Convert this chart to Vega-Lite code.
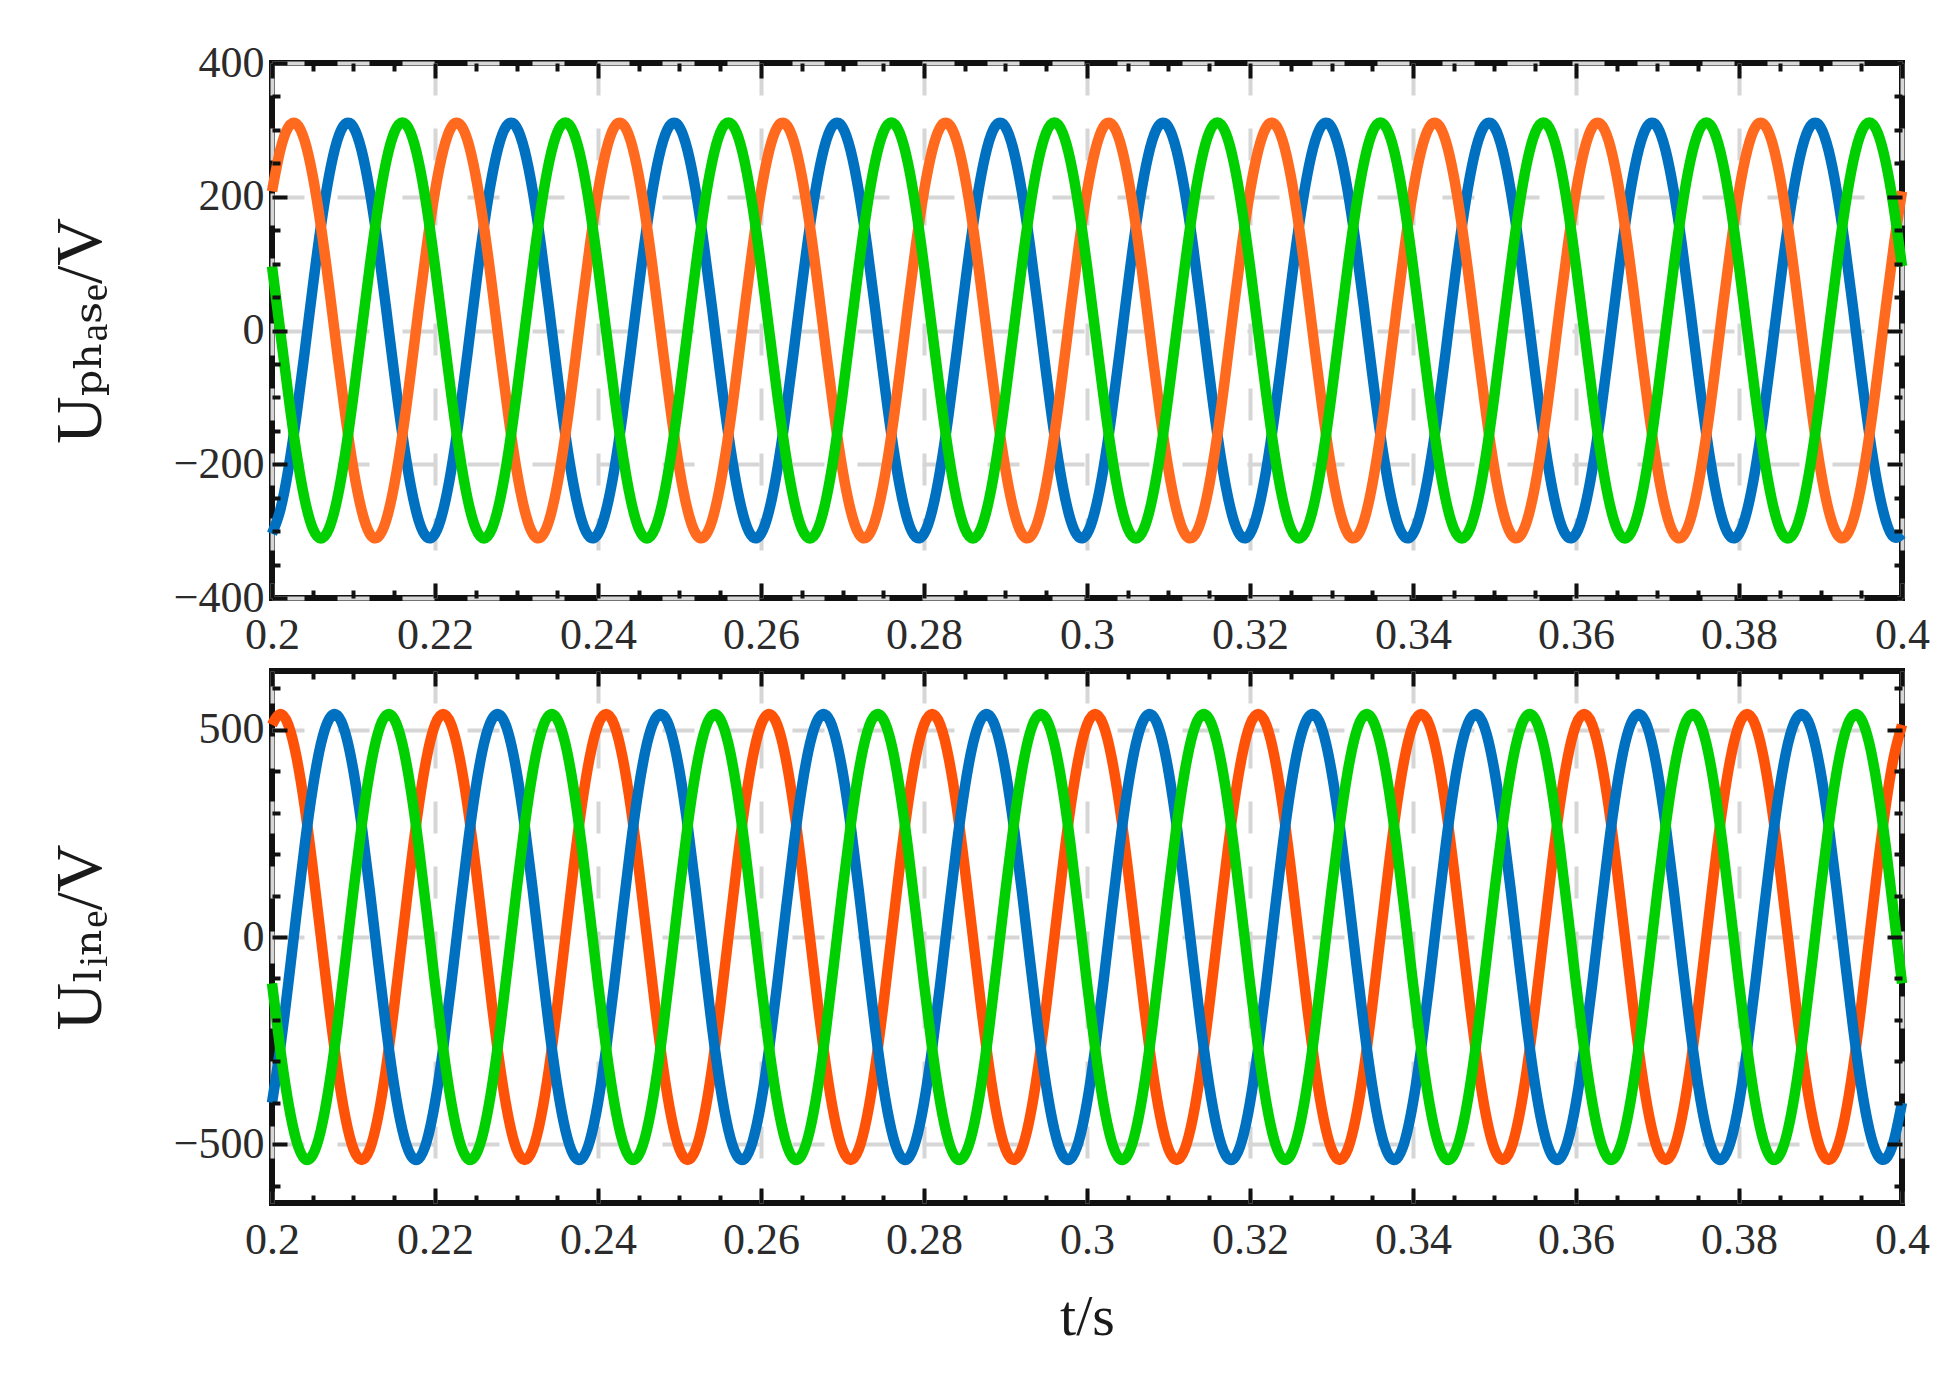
{
"$schema": "https://vega.github.io/schema/vega-lite/v6.json",
"background": "white",
"padding": {"left": 44, "top": 38, "right": 20, "bottom": 10},
"spacing": 6,
"config": {
  "view": {"stroke": "#111111", "strokeWidth": 6},
  "font": "Liberation Serif, DejaVu Serif, serif",
  "axis": {"labelFont": "Liberation Serif, DejaVu Serif, serif", "titleFont": "Liberation Serif, DejaVu Serif, serif", "labelFontSize": 44, "labelColor": "#2b2b2b", "titleColor": "#1a1a1a", "titleFontWeight": "normal", "tickColor": "#111111", "domain": false}
},
"datasets": {"w": [
{"t":0.2,"a":-304,"b":208,"c":96,"d":512,"e":-400,"f":-112},
{"t":0.201,"a":-269,"b":269,"c":0,"d":538,"e":-269,"f":-269},
{"t":0.202,"a":-208,"b":304,"c":-96,"d":512,"e":-112,"f":-400},
{"t":0.203,"a":-127,"b":309,"c":-183,"d":435,"e":56,"f":-492},
{"t":0.204,"a":-33,"b":284,"c":-252,"d":316,"e":219,"f":-535},
{"t":0.205,"a":65,"b":231,"c":-296,"d":166,"e":360,"f":-526},
{"t":0.206,"a":156,"b":156,"c":-311,"d":0,"e":466,"f":-466},
{"t":0.207,"a":231,"b":65,"c":-296,"d":-166,"e":526,"f":-360},
{"t":0.208,"a":284,"b":-33,"c":-252,"d":-316,"e":535,"f":-219},
{"t":0.209,"a":309,"b":-127,"c":-183,"d":-435,"e":492,"f":-56},
{"t":0.21,"a":304,"b":-208,"c":-96,"d":-512,"e":400,"f":112},
{"t":0.211,"a":269,"b":-269,"c":0,"d":-538,"e":269,"f":269},
{"t":0.212,"a":208,"b":-304,"c":96,"d":-512,"e":112,"f":400},
{"t":0.213,"a":127,"b":-309,"c":183,"d":-435,"e":-56,"f":492},
{"t":0.214,"a":33,"b":-284,"c":252,"d":-316,"e":-219,"f":535},
{"t":0.215,"a":-65,"b":-231,"c":296,"d":-166,"e":-360,"f":526},
{"t":0.216,"a":-156,"b":-156,"c":311,"d":0,"e":-466,"f":466},
{"t":0.217,"a":-231,"b":-65,"c":296,"d":166,"e":-526,"f":360},
{"t":0.218,"a":-284,"b":33,"c":252,"d":316,"e":-535,"f":219},
{"t":0.219,"a":-309,"b":127,"c":183,"d":435,"e":-492,"f":56},
{"t":0.22,"a":-304,"b":208,"c":96,"d":512,"e":-400,"f":-112},
{"t":0.221,"a":-269,"b":269,"c":0,"d":538,"e":-269,"f":-269},
{"t":0.222,"a":-208,"b":304,"c":-96,"d":512,"e":-112,"f":-400},
{"t":0.223,"a":-127,"b":309,"c":-183,"d":435,"e":56,"f":-492},
{"t":0.224,"a":-33,"b":284,"c":-252,"d":316,"e":219,"f":-535},
{"t":0.225,"a":65,"b":231,"c":-296,"d":166,"e":360,"f":-526},
{"t":0.226,"a":156,"b":156,"c":-311,"d":0,"e":466,"f":-466},
{"t":0.227,"a":231,"b":65,"c":-296,"d":-166,"e":526,"f":-360},
{"t":0.228,"a":284,"b":-33,"c":-252,"d":-316,"e":535,"f":-219},
{"t":0.229,"a":309,"b":-127,"c":-183,"d":-435,"e":492,"f":-56},
{"t":0.23,"a":304,"b":-208,"c":-96,"d":-512,"e":400,"f":112},
{"t":0.231,"a":269,"b":-269,"c":0,"d":-538,"e":269,"f":269},
{"t":0.232,"a":208,"b":-304,"c":96,"d":-512,"e":112,"f":400},
{"t":0.233,"a":127,"b":-309,"c":183,"d":-435,"e":-56,"f":492},
{"t":0.234,"a":33,"b":-284,"c":252,"d":-316,"e":-219,"f":535},
{"t":0.235,"a":-65,"b":-231,"c":296,"d":-166,"e":-360,"f":526},
{"t":0.236,"a":-156,"b":-156,"c":311,"d":0,"e":-466,"f":466},
{"t":0.237,"a":-231,"b":-65,"c":296,"d":166,"e":-526,"f":360},
{"t":0.238,"a":-284,"b":33,"c":252,"d":316,"e":-535,"f":219},
{"t":0.239,"a":-309,"b":127,"c":183,"d":435,"e":-492,"f":56},
{"t":0.24,"a":-304,"b":208,"c":96,"d":512,"e":-400,"f":-112},
{"t":0.241,"a":-269,"b":269,"c":0,"d":538,"e":-269,"f":-269},
{"t":0.242,"a":-208,"b":304,"c":-96,"d":512,"e":-112,"f":-400},
{"t":0.243,"a":-127,"b":309,"c":-183,"d":435,"e":56,"f":-492},
{"t":0.244,"a":-33,"b":284,"c":-252,"d":316,"e":219,"f":-535},
{"t":0.245,"a":65,"b":231,"c":-296,"d":166,"e":360,"f":-526},
{"t":0.246,"a":156,"b":156,"c":-311,"d":0,"e":466,"f":-466},
{"t":0.247,"a":231,"b":65,"c":-296,"d":-166,"e":526,"f":-360},
{"t":0.248,"a":284,"b":-33,"c":-252,"d":-316,"e":535,"f":-219},
{"t":0.249,"a":309,"b":-127,"c":-183,"d":-435,"e":492,"f":-56},
{"t":0.25,"a":304,"b":-208,"c":-96,"d":-512,"e":400,"f":112},
{"t":0.251,"a":269,"b":-269,"c":0,"d":-538,"e":269,"f":269},
{"t":0.252,"a":208,"b":-304,"c":96,"d":-512,"e":112,"f":400},
{"t":0.253,"a":127,"b":-309,"c":183,"d":-435,"e":-56,"f":492},
{"t":0.254,"a":33,"b":-284,"c":252,"d":-316,"e":-219,"f":535},
{"t":0.255,"a":-65,"b":-231,"c":296,"d":-166,"e":-360,"f":526},
{"t":0.256,"a":-156,"b":-156,"c":311,"d":0,"e":-466,"f":466},
{"t":0.257,"a":-231,"b":-65,"c":296,"d":166,"e":-526,"f":360},
{"t":0.258,"a":-284,"b":33,"c":252,"d":316,"e":-535,"f":219},
{"t":0.259,"a":-309,"b":127,"c":183,"d":435,"e":-492,"f":56},
{"t":0.26,"a":-304,"b":208,"c":96,"d":512,"e":-400,"f":-112},
{"t":0.261,"a":-269,"b":269,"c":0,"d":538,"e":-269,"f":-269},
{"t":0.262,"a":-208,"b":304,"c":-96,"d":512,"e":-112,"f":-400},
{"t":0.263,"a":-127,"b":309,"c":-183,"d":435,"e":56,"f":-492},
{"t":0.264,"a":-33,"b":284,"c":-252,"d":316,"e":219,"f":-535},
{"t":0.265,"a":65,"b":231,"c":-296,"d":166,"e":360,"f":-526},
{"t":0.266,"a":156,"b":156,"c":-311,"d":0,"e":466,"f":-466},
{"t":0.267,"a":231,"b":65,"c":-296,"d":-166,"e":526,"f":-360},
{"t":0.268,"a":284,"b":-33,"c":-252,"d":-316,"e":535,"f":-219},
{"t":0.269,"a":309,"b":-127,"c":-183,"d":-435,"e":492,"f":-56},
{"t":0.27,"a":304,"b":-208,"c":-96,"d":-512,"e":400,"f":112},
{"t":0.271,"a":269,"b":-269,"c":0,"d":-538,"e":269,"f":269},
{"t":0.272,"a":208,"b":-304,"c":96,"d":-512,"e":112,"f":400},
{"t":0.273,"a":127,"b":-309,"c":183,"d":-435,"e":-56,"f":492},
{"t":0.274,"a":33,"b":-284,"c":252,"d":-316,"e":-219,"f":535},
{"t":0.275,"a":-65,"b":-231,"c":296,"d":-166,"e":-360,"f":526},
{"t":0.276,"a":-156,"b":-156,"c":311,"d":0,"e":-466,"f":466},
{"t":0.277,"a":-231,"b":-65,"c":296,"d":166,"e":-526,"f":360},
{"t":0.278,"a":-284,"b":33,"c":252,"d":316,"e":-535,"f":219},
{"t":0.279,"a":-309,"b":127,"c":183,"d":435,"e":-492,"f":56},
{"t":0.28,"a":-304,"b":208,"c":96,"d":512,"e":-400,"f":-112},
{"t":0.281,"a":-269,"b":269,"c":0,"d":538,"e":-269,"f":-269},
{"t":0.282,"a":-208,"b":304,"c":-96,"d":512,"e":-112,"f":-400},
{"t":0.283,"a":-127,"b":309,"c":-183,"d":435,"e":56,"f":-492},
{"t":0.284,"a":-33,"b":284,"c":-252,"d":316,"e":219,"f":-535},
{"t":0.285,"a":65,"b":231,"c":-296,"d":166,"e":360,"f":-526},
{"t":0.286,"a":156,"b":156,"c":-311,"d":0,"e":466,"f":-466},
{"t":0.287,"a":231,"b":65,"c":-296,"d":-166,"e":526,"f":-360},
{"t":0.288,"a":284,"b":-33,"c":-252,"d":-316,"e":535,"f":-219},
{"t":0.289,"a":309,"b":-127,"c":-183,"d":-435,"e":492,"f":-56},
{"t":0.29,"a":304,"b":-208,"c":-96,"d":-512,"e":400,"f":112},
{"t":0.291,"a":269,"b":-269,"c":0,"d":-538,"e":269,"f":269},
{"t":0.292,"a":208,"b":-304,"c":96,"d":-512,"e":112,"f":400},
{"t":0.293,"a":127,"b":-309,"c":183,"d":-435,"e":-56,"f":492},
{"t":0.294,"a":33,"b":-284,"c":252,"d":-316,"e":-219,"f":535},
{"t":0.295,"a":-65,"b":-231,"c":296,"d":-166,"e":-360,"f":526},
{"t":0.296,"a":-156,"b":-156,"c":311,"d":0,"e":-466,"f":466},
{"t":0.297,"a":-231,"b":-65,"c":296,"d":166,"e":-526,"f":360},
{"t":0.298,"a":-284,"b":33,"c":252,"d":316,"e":-535,"f":219},
{"t":0.299,"a":-309,"b":127,"c":183,"d":435,"e":-492,"f":56},
{"t":0.3,"a":-304,"b":208,"c":96,"d":512,"e":-400,"f":-112},
{"t":0.301,"a":-269,"b":269,"c":0,"d":538,"e":-269,"f":-269},
{"t":0.302,"a":-208,"b":304,"c":-96,"d":512,"e":-112,"f":-400},
{"t":0.303,"a":-127,"b":309,"c":-183,"d":435,"e":56,"f":-492},
{"t":0.304,"a":-33,"b":284,"c":-252,"d":316,"e":219,"f":-535},
{"t":0.305,"a":65,"b":231,"c":-296,"d":166,"e":360,"f":-526},
{"t":0.306,"a":156,"b":156,"c":-311,"d":0,"e":466,"f":-466},
{"t":0.307,"a":231,"b":65,"c":-296,"d":-166,"e":526,"f":-360},
{"t":0.308,"a":284,"b":-33,"c":-252,"d":-316,"e":535,"f":-219},
{"t":0.309,"a":309,"b":-127,"c":-183,"d":-435,"e":492,"f":-56},
{"t":0.31,"a":304,"b":-208,"c":-96,"d":-512,"e":400,"f":112},
{"t":0.311,"a":269,"b":-269,"c":0,"d":-538,"e":269,"f":269},
{"t":0.312,"a":208,"b":-304,"c":96,"d":-512,"e":112,"f":400},
{"t":0.313,"a":127,"b":-309,"c":183,"d":-435,"e":-56,"f":492},
{"t":0.314,"a":33,"b":-284,"c":252,"d":-316,"e":-219,"f":535},
{"t":0.315,"a":-65,"b":-231,"c":296,"d":-166,"e":-360,"f":526},
{"t":0.316,"a":-156,"b":-156,"c":311,"d":0,"e":-466,"f":466},
{"t":0.317,"a":-231,"b":-65,"c":296,"d":166,"e":-526,"f":360},
{"t":0.318,"a":-284,"b":33,"c":252,"d":316,"e":-535,"f":219},
{"t":0.319,"a":-309,"b":127,"c":183,"d":435,"e":-492,"f":56},
{"t":0.32,"a":-304,"b":208,"c":96,"d":512,"e":-400,"f":-112},
{"t":0.321,"a":-269,"b":269,"c":0,"d":538,"e":-269,"f":-269},
{"t":0.322,"a":-208,"b":304,"c":-96,"d":512,"e":-112,"f":-400},
{"t":0.323,"a":-127,"b":309,"c":-183,"d":435,"e":56,"f":-492},
{"t":0.324,"a":-33,"b":284,"c":-252,"d":316,"e":219,"f":-535},
{"t":0.325,"a":65,"b":231,"c":-296,"d":166,"e":360,"f":-526},
{"t":0.326,"a":156,"b":156,"c":-311,"d":0,"e":466,"f":-466},
{"t":0.327,"a":231,"b":65,"c":-296,"d":-166,"e":526,"f":-360},
{"t":0.328,"a":284,"b":-33,"c":-252,"d":-316,"e":535,"f":-219},
{"t":0.329,"a":309,"b":-127,"c":-183,"d":-435,"e":492,"f":-56},
{"t":0.33,"a":304,"b":-208,"c":-96,"d":-512,"e":400,"f":112},
{"t":0.331,"a":269,"b":-269,"c":0,"d":-538,"e":269,"f":269},
{"t":0.332,"a":208,"b":-304,"c":96,"d":-512,"e":112,"f":400},
{"t":0.333,"a":127,"b":-309,"c":183,"d":-435,"e":-56,"f":492},
{"t":0.334,"a":33,"b":-284,"c":252,"d":-316,"e":-219,"f":535},
{"t":0.335,"a":-65,"b":-231,"c":296,"d":-166,"e":-360,"f":526},
{"t":0.336,"a":-156,"b":-156,"c":311,"d":0,"e":-466,"f":466},
{"t":0.337,"a":-231,"b":-65,"c":296,"d":166,"e":-526,"f":360},
{"t":0.338,"a":-284,"b":33,"c":252,"d":316,"e":-535,"f":219},
{"t":0.339,"a":-309,"b":127,"c":183,"d":435,"e":-492,"f":56},
{"t":0.34,"a":-304,"b":208,"c":96,"d":512,"e":-400,"f":-112},
{"t":0.341,"a":-269,"b":269,"c":0,"d":538,"e":-269,"f":-269},
{"t":0.342,"a":-208,"b":304,"c":-96,"d":512,"e":-112,"f":-400},
{"t":0.343,"a":-127,"b":309,"c":-183,"d":435,"e":56,"f":-492},
{"t":0.344,"a":-33,"b":284,"c":-252,"d":316,"e":219,"f":-535},
{"t":0.345,"a":65,"b":231,"c":-296,"d":166,"e":360,"f":-526},
{"t":0.346,"a":156,"b":156,"c":-311,"d":0,"e":466,"f":-466},
{"t":0.347,"a":231,"b":65,"c":-296,"d":-166,"e":526,"f":-360},
{"t":0.348,"a":284,"b":-33,"c":-252,"d":-316,"e":535,"f":-219},
{"t":0.349,"a":309,"b":-127,"c":-183,"d":-435,"e":492,"f":-56},
{"t":0.35,"a":304,"b":-208,"c":-96,"d":-512,"e":400,"f":112},
{"t":0.351,"a":269,"b":-269,"c":0,"d":-538,"e":269,"f":269},
{"t":0.352,"a":208,"b":-304,"c":96,"d":-512,"e":112,"f":400},
{"t":0.353,"a":127,"b":-309,"c":183,"d":-435,"e":-56,"f":492},
{"t":0.354,"a":33,"b":-284,"c":252,"d":-316,"e":-219,"f":535},
{"t":0.355,"a":-65,"b":-231,"c":296,"d":-166,"e":-360,"f":526},
{"t":0.356,"a":-156,"b":-156,"c":311,"d":0,"e":-466,"f":466},
{"t":0.357,"a":-231,"b":-65,"c":296,"d":166,"e":-526,"f":360},
{"t":0.358,"a":-284,"b":33,"c":252,"d":316,"e":-535,"f":219},
{"t":0.359,"a":-309,"b":127,"c":183,"d":435,"e":-492,"f":56},
{"t":0.36,"a":-304,"b":208,"c":96,"d":512,"e":-400,"f":-112},
{"t":0.361,"a":-269,"b":269,"c":0,"d":538,"e":-269,"f":-269},
{"t":0.362,"a":-208,"b":304,"c":-96,"d":512,"e":-112,"f":-400},
{"t":0.363,"a":-127,"b":309,"c":-183,"d":435,"e":56,"f":-492},
{"t":0.364,"a":-33,"b":284,"c":-252,"d":316,"e":219,"f":-535},
{"t":0.365,"a":65,"b":231,"c":-296,"d":166,"e":360,"f":-526},
{"t":0.366,"a":156,"b":156,"c":-311,"d":0,"e":466,"f":-466},
{"t":0.367,"a":231,"b":65,"c":-296,"d":-166,"e":526,"f":-360},
{"t":0.368,"a":284,"b":-33,"c":-252,"d":-316,"e":535,"f":-219},
{"t":0.369,"a":309,"b":-127,"c":-183,"d":-435,"e":492,"f":-56},
{"t":0.37,"a":304,"b":-208,"c":-96,"d":-512,"e":400,"f":112},
{"t":0.371,"a":269,"b":-269,"c":0,"d":-538,"e":269,"f":269},
{"t":0.372,"a":208,"b":-304,"c":96,"d":-512,"e":112,"f":400},
{"t":0.373,"a":127,"b":-309,"c":183,"d":-435,"e":-56,"f":492},
{"t":0.374,"a":33,"b":-284,"c":252,"d":-316,"e":-219,"f":535},
{"t":0.375,"a":-65,"b":-231,"c":296,"d":-166,"e":-360,"f":526},
{"t":0.376,"a":-156,"b":-156,"c":311,"d":0,"e":-466,"f":466},
{"t":0.377,"a":-231,"b":-65,"c":296,"d":166,"e":-526,"f":360},
{"t":0.378,"a":-284,"b":33,"c":252,"d":316,"e":-535,"f":219},
{"t":0.379,"a":-309,"b":127,"c":183,"d":435,"e":-492,"f":56},
{"t":0.38,"a":-304,"b":208,"c":96,"d":512,"e":-400,"f":-112},
{"t":0.381,"a":-269,"b":269,"c":0,"d":538,"e":-269,"f":-269},
{"t":0.382,"a":-208,"b":304,"c":-96,"d":512,"e":-112,"f":-400},
{"t":0.383,"a":-127,"b":309,"c":-183,"d":435,"e":56,"f":-492},
{"t":0.384,"a":-33,"b":284,"c":-252,"d":316,"e":219,"f":-535},
{"t":0.385,"a":65,"b":231,"c":-296,"d":166,"e":360,"f":-526},
{"t":0.386,"a":156,"b":156,"c":-311,"d":0,"e":466,"f":-466},
{"t":0.387,"a":231,"b":65,"c":-296,"d":-166,"e":526,"f":-360},
{"t":0.388,"a":284,"b":-33,"c":-252,"d":-316,"e":535,"f":-219},
{"t":0.389,"a":309,"b":-127,"c":-183,"d":-435,"e":492,"f":-56},
{"t":0.39,"a":304,"b":-208,"c":-96,"d":-512,"e":400,"f":112},
{"t":0.391,"a":269,"b":-269,"c":0,"d":-538,"e":269,"f":269},
{"t":0.392,"a":208,"b":-304,"c":96,"d":-512,"e":112,"f":400},
{"t":0.393,"a":127,"b":-309,"c":183,"d":-435,"e":-56,"f":492},
{"t":0.394,"a":33,"b":-284,"c":252,"d":-316,"e":-219,"f":535},
{"t":0.395,"a":-65,"b":-231,"c":296,"d":-166,"e":-360,"f":526},
{"t":0.396,"a":-156,"b":-156,"c":311,"d":0,"e":-466,"f":466},
{"t":0.397,"a":-231,"b":-65,"c":296,"d":166,"e":-526,"f":360},
{"t":0.398,"a":-284,"b":33,"c":252,"d":316,"e":-535,"f":219},
{"t":0.399,"a":-309,"b":127,"c":183,"d":435,"e":-492,"f":56},
{"t":0.4,"a":-304,"b":208,"c":96,"d":512,"e":-400,"f":-112}
]},
"vconcat": [
{
  "width": 1630, "height": 535,
  "data": {"name": "w"},
  "transform": [{"fold": ["a", "b", "c"], "as": ["s", "v"]}],
  "layer": [
    {"mark": {"type": "line", "strokeWidth": 10.5, "interpolate": "natural", "strokeJoin": "round"},
     "encoding": {
       "x": {"field": "t", "type": "quantitative", "scale": {"domain": [0.2, 0.4], "nice": false, "zero": false},
             "axis": {"orient": "bottom", "values": [0.2,0.22,0.24,0.26,0.28,0.3,0.32,0.34,0.36,0.38,0.4], "format": ".2~f", "labelFont": "Liberation Serif, DejaVu Serif, serif", "ticks": false, "tickSize": 0, "labelPadding": 15, "labelFlush": false, "labelOverlap": false, "grid": true, "gridDash": [32, 33], "gridColor": "#d6d6d6", "gridWidth": 4, "title": null, "zindex": 0}},
       "y": {"field": "v", "type": "quantitative", "scale": {"domain": [-400, 400], "nice": false, "zero": false},
             "axis": {"orient": "left", "values": [-400,-200,0,200,400], "labelFont": "Liberation Serif, DejaVu Serif, serif", "ticks": false, "tickSize": 0, "labelPadding": 8, "labelFlush": false, "labelOverlap": false, "grid": true, "gridDash": [32, 33], "gridColor": "#d6d6d6", "gridWidth": 4, "title": "Uₚₕₐₛₑ/V", "titleFontSize": 66, "titlePadding": 59, "zindex": 0}},
       "color": {"field": "s", "type": "nominal", "scale": {"domain": ["a","b","c","d","e","f"], "range": ["#0070C0","#FF6A1E","#00D000","#FF5209","#0070C0","#00D000"]}, "legend": null}
     }},
    {"mark": {"type": "line", "opacity": 0},
     "encoding": {
       "x": {"field": "t", "type": "quantitative", "axis": {"orient": "bottom", "values": [0.2,0.22,0.24,0.26,0.28,0.3,0.32,0.34,0.36,0.38,0.4], "labels": false, "grid": false, "tickSize": -15, "tickWidth": 4, "title": null, "zindex": 1}},
       "y": {"field": "v", "type": "quantitative", "axis": {"orient": "left", "values": [-400,-200,0,200,400], "labels": false, "grid": false, "tickSize": -15, "tickWidth": 4, "title": null, "zindex": 1}}
     }},
    {"mark": {"type": "line", "opacity": 0},
     "encoding": {
       "x": {"field": "t", "type": "quantitative", "axis": {"orient": "bottom", "values": [0.205,0.21,0.215,0.225,0.23,0.235,0.245,0.25,0.255,0.265,0.27,0.275,0.285,0.29,0.295,0.305,0.31,0.315,0.325,0.33,0.335,0.345,0.35,0.355,0.365,0.37,0.375,0.385,0.39,0.395], "labels": false, "grid": false, "tickSize": -8, "tickWidth": 4, "title": null, "zindex": 1}},
       "y": {"field": "v", "type": "quantitative", "axis": {"orient": "left", "values": [-350,-300,-250,-150,-100,-50,50,100,150,250,300,350], "labels": false, "grid": false, "tickSize": -8, "tickWidth": 4, "title": null, "zindex": 1}}
     }},
    {"mark": {"type": "line", "opacity": 0},
     "encoding": {
       "x": {"field": "t", "type": "quantitative", "axis": {"orient": "top", "values": [0.2,0.22,0.24,0.26,0.28,0.3,0.32,0.34,0.36,0.38,0.4], "labels": false, "grid": false, "tickSize": -15, "tickWidth": 4, "title": null, "zindex": 1}},
       "y": {"field": "v", "type": "quantitative", "axis": {"orient": "right", "values": [-400,-200,0,200,400], "labels": false, "grid": false, "tickSize": -15, "tickWidth": 4, "title": null, "zindex": 1}}
     }},
    {"mark": {"type": "line", "opacity": 0},
     "encoding": {
       "x": {"field": "t", "type": "quantitative", "axis": {"orient": "top", "values": [0.205,0.21,0.215,0.225,0.23,0.235,0.245,0.25,0.255,0.265,0.27,0.275,0.285,0.29,0.295,0.305,0.31,0.315,0.325,0.33,0.335,0.345,0.35,0.355,0.365,0.37,0.375,0.385,0.39,0.395], "labels": false, "grid": false, "tickSize": -8, "tickWidth": 4, "title": null, "zindex": 1}},
       "y": {"field": "v", "type": "quantitative", "axis": {"orient": "right", "values": [-350,-300,-250,-150,-100,-50,50,100,150,250,300,350], "labels": false, "grid": false, "tickSize": -8, "tickWidth": 4, "title": null, "zindex": 1}}
     }}
  ],
  "resolve": {"axis": {"x": "independent", "y": "independent"}}
},
{
  "width": 1630, "height": 532,
  "data": {"name": "w"},
  "transform": [{"fold": ["d", "e", "f"], "as": ["s", "v"]}],
  "layer": [
    {"mark": {"type": "line", "strokeWidth": 10.5, "interpolate": "natural", "strokeJoin": "round"},
     "encoding": {
       "x": {"field": "t", "type": "quantitative", "scale": {"domain": [0.2, 0.4], "nice": false, "zero": false},
             "axis": {"orient": "bottom", "values": [0.2,0.22,0.24,0.26,0.28,0.3,0.32,0.34,0.36,0.38,0.4], "format": ".2~f", "labelFont": "Liberation Serif, DejaVu Serif, serif", "ticks": false, "tickSize": 0, "labelPadding": 15, "labelFlush": false, "labelOverlap": false, "grid": true, "gridDash": [32, 33], "gridColor": "#d6d6d6", "gridWidth": 4, "title": "t/s", "titleFontSize": 58, "titlePadding": 26, "zindex": 0}},
       "y": {"field": "v", "type": "quantitative", "scale": {"domain": [-642, 642], "nice": false, "zero": false},
             "axis": {"orient": "left", "values": [-500,0,500], "labelFont": "Liberation Serif, DejaVu Serif, serif", "ticks": false, "tickSize": 0, "labelPadding": 8, "labelFlush": false, "labelOverlap": false, "grid": true, "gridDash": [32, 33], "gridColor": "#d6d6d6", "gridWidth": 4, "title": "Uₗᵢₙₑ/V", "titleFontSize": 66, "titlePadding": 59, "zindex": 0}},
       "color": {"field": "s", "type": "nominal", "scale": {"domain": ["a","b","c","d","e","f"], "range": ["#0070C0","#FF6A1E","#00D000","#FF5209","#0070C0","#00D000"]}, "legend": null}
     }},
    {"mark": {"type": "line", "opacity": 0},
     "encoding": {
       "x": {"field": "t", "type": "quantitative", "axis": {"orient": "bottom", "values": [0.2,0.22,0.24,0.26,0.28,0.3,0.32,0.34,0.36,0.38,0.4], "labels": false, "grid": false, "tickSize": -15, "tickWidth": 4, "title": null, "zindex": 1}},
       "y": {"field": "v", "type": "quantitative", "axis": {"orient": "left", "values": [-500,0,500], "labels": false, "grid": false, "tickSize": -15, "tickWidth": 4, "title": null, "zindex": 1}}
     }},
    {"mark": {"type": "line", "opacity": 0},
     "encoding": {
       "x": {"field": "t", "type": "quantitative", "axis": {"orient": "bottom", "values": [0.205,0.21,0.215,0.225,0.23,0.235,0.245,0.25,0.255,0.265,0.27,0.275,0.285,0.29,0.295,0.305,0.31,0.315,0.325,0.33,0.335,0.345,0.35,0.355,0.365,0.37,0.375,0.385,0.39,0.395], "labels": false, "grid": false, "tickSize": -8, "tickWidth": 4, "title": null, "zindex": 1}},
       "y": {"field": "v", "type": "quantitative", "axis": {"orient": "left", "values": [-600,-400,-300,-200,-100,100,200,300,400,600], "labels": false, "grid": false, "tickSize": -8, "tickWidth": 4, "title": null, "zindex": 1}}
     }},
    {"mark": {"type": "line", "opacity": 0},
     "encoding": {
       "x": {"field": "t", "type": "quantitative", "axis": {"orient": "top", "values": [0.2,0.22,0.24,0.26,0.28,0.3,0.32,0.34,0.36,0.38,0.4], "labels": false, "grid": false, "tickSize": -15, "tickWidth": 4, "title": null, "zindex": 1}},
       "y": {"field": "v", "type": "quantitative", "axis": {"orient": "right", "values": [-500,0,500], "labels": false, "grid": false, "tickSize": -15, "tickWidth": 4, "title": null, "zindex": 1}}
     }},
    {"mark": {"type": "line", "opacity": 0},
     "encoding": {
       "x": {"field": "t", "type": "quantitative", "axis": {"orient": "top", "values": [0.205,0.21,0.215,0.225,0.23,0.235,0.245,0.25,0.255,0.265,0.27,0.275,0.285,0.29,0.295,0.305,0.31,0.315,0.325,0.33,0.335,0.345,0.35,0.355,0.365,0.37,0.375,0.385,0.39,0.395], "labels": false, "grid": false, "tickSize": -8, "tickWidth": 4, "title": null, "zindex": 1}},
       "y": {"field": "v", "type": "quantitative", "axis": {"orient": "right", "values": [-600,-400,-300,-200,-100,100,200,300,400,600], "labels": false, "grid": false, "tickSize": -8, "tickWidth": 4, "title": null, "zindex": 1}}
     }}
  ],
  "resolve": {"axis": {"x": "independent", "y": "independent"}}
}
]
}
